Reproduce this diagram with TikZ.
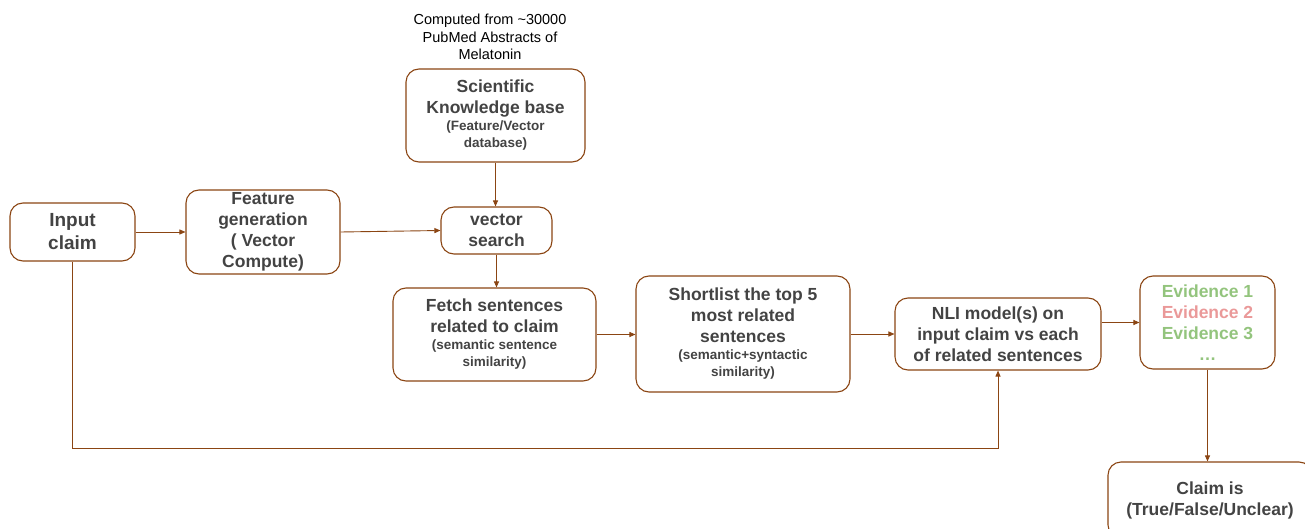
\documentclass[tikz,border=0pt]{standalone}
\usepackage{fontspec}
\setmainfont{Liberation Sans}
\usetikzlibrary{arrows.meta}
\definecolor{edgebrown}{HTML}{8B4513}
\definecolor{textgrey}{HTML}{434343}
\definecolor{evgreen}{HTML}{93C47D}
\definecolor{evred}{HTML}{EA9999}
\newcommand{\boxFont}[0]{\fontsize{17.5}{21}\selectfont\bfseries}
\newcommand{\noteText}[1]{{\fontsize{13.5}{17}\selectfont #1\par}}

\begin{document}
\begin{tikzpicture}[x=1pt, y=-1pt]
  \tikzset{flow box/.style 2 args={draw=edgebrown, line width=1.1pt, rounded corners=13pt,
      align=flush center, inner sep=0pt, text=textgrey, font=\boxFont,
      minimum width=#1, text width=#1, minimum height=#2},
    flow arrow/.style={draw=edgebrown, line width=0.9pt, -{Triangle[length=6pt,width=5pt]}}}
  \useasboundingbox (0,0) rectangle (1305,529);
  \node[align=center, font=\fontsize{14.5}{17.5}\selectfont] (SRC-1) at (490,37)
    {Computed from \textasciitilde30000\\PubMed Abstracts of\\Melatonin};
  \node[flow box={125pt}{58pt}, font=\fontsize{19}{23}\selectfont\bfseries] (IN-1) at (72.5,232)
    {Input\\claim};
  \node[flow box={154pt}{84pt}] (FG-1) at (263,232)
    {Feature\\generation\\( Vector\\Compute)};
  \node[flow box={179pt}{93pt}] (KB-1) at (495.5,115.5)
    {Scientific\\Knowledge base\par\noteText{(Feature/Vector\\database)}};
  \node[flow box={111pt}{47pt}] (VS-1) at (496.5,230.5)
    {vector\\search};
  \node[flow box={203pt}{93pt}] (FS-1) at (494.5,334.5)
    {Fetch sentences\\related to claim\par\noteText{(semantic sentence\\similarity)}};
  \node[flow box={214pt}{116pt}] (SL-1) at (743,334)
    {Shortlist the top 5\\most related\\sentences\par\noteText{(semantic+syntactic\\similarity)}};
  \node[flow box={206pt}{72pt}] (NLI-1) at (998,334)
    {NLI model(s) on\\input claim vs each\\of related sentences};
  \node[flow box={135pt}{93pt}] (EV-1) at (1207.5,322.5)
    {{\color{evgreen}Evidence 1}\\{\color{evred}Evidence 2}\\{\color{evgreen}Evidence 3}\\{\color{evgreen}\dots}};
  \node[flow box={204pt}{76pt}] (OUT-1) at (1210,500)
    {Claim is\\(True/False/Unclear)};
  \coordinate (FB-1) at (72.5,448);
  \draw[flow arrow] (IN-1.east) -- (FG-1.west);
  \draw[flow arrow] (FG-1.east) -- (VS-1.west);
  \draw[flow arrow] (KB-1.south) -- (KB-1.south |- VS-1.north);
  \draw[flow arrow] (VS-1.south) -- (VS-1.south |- FS-1.north);
  \draw[flow arrow] (FS-1.east) -- (FS-1.east -| SL-1.west);
  \draw[flow arrow] (SL-1.east) -- (SL-1.east -| NLI-1.west);
  \draw[flow arrow] (NLI-1.east |- EV-1.west) -- (EV-1.west);
  \draw[flow arrow] (EV-1.south) -- (EV-1.south |- OUT-1.north);
  \draw[flow arrow] (IN-1.south) -- (FB-1) -| (NLI-1.south);
\end{tikzpicture}
\end{document}
